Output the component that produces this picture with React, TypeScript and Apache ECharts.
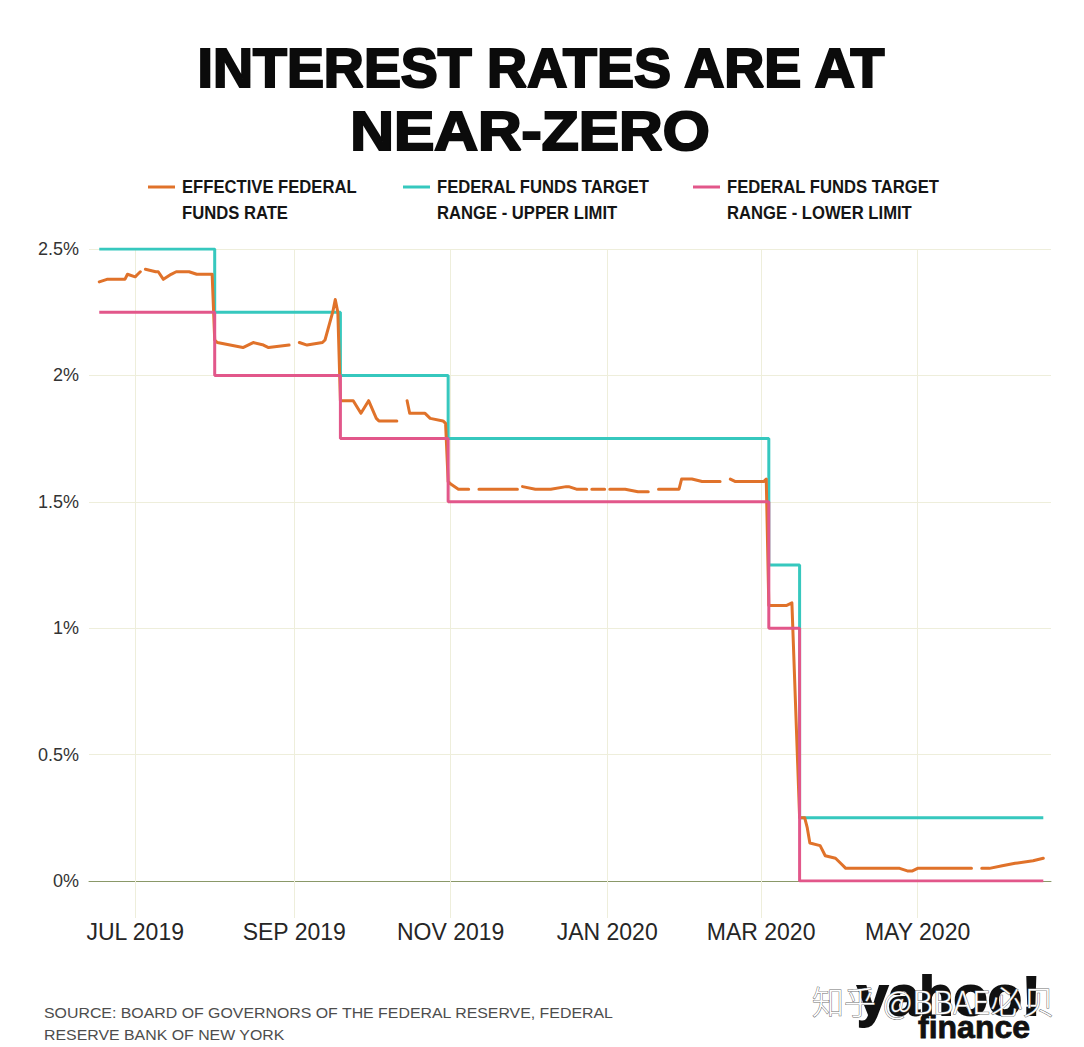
import React, { useEffect, useRef } from 'react';
import * as echarts from 'echarts';

// ---------- texts ----------
const TITLE_LINES = ['INTEREST RATES ARE AT', 'NEAR-ZERO'];
const LEGEND_NAMES = [
  'EFFECTIVE FEDERAL\nFUNDS RATE',
  'FEDERAL FUNDS TARGET\nRANGE - UPPER LIMIT',
  'FEDERAL FUNDS TARGET\nRANGE - LOWER LIMIT',
];
const SERIES_NAMES = ['Effective federal funds rate', 'Target range - upper limit', 'Target range - lower limit'];
const SOURCE_LINES = [
  'SOURCE: BOARD OF GOVERNORS OF THE FEDERAL RESERVE, FEDERAL',
  'RESERVE BANK OF NEW YORK',
];
const WATERMARK = '知乎 @BBAE必贝';
const MONTH_ABBR = ['JAN', 'FEB', 'MAR', 'APR', 'MAY', 'JUN', 'JUL', 'AUG', 'SEP', 'OCT', 'NOV', 'DEC'];

// ---------- axes ----------
const AXIS_START = '2019-06-13';
const AXIS_END = '2020-06-22';
const X_TICK_DATES = ['2019-07-01', '2019-09-01', '2019-11-01', '2020-01-01', '2020-03-01', '2020-05-01'];
const Y_MIN = 0;
const Y_MAX = 2.5;
const Y_STEP = 0.5;

// ---------- target range (changes) ----------
const RANGE_DATES = ['2019-06-17', '2019-08-01', '2019-09-19', '2019-10-31', '2020-03-04', '2020-03-16', '2020-06-19'];
const UPPER_LIMIT = [2.5, 2.25, 2.0, 1.75, 1.25, 0.25, 0.25];
const LOWER_LIMIT = [2.25, 2.0, 1.75, 1.5, 1.0, 0, 0];

// ---------- effective federal funds rate (null = holiday break) ----------
const EFFR_DATES = [
  '2019-06-17', '2019-06-20', '2019-06-27', '2019-06-28', '2019-07-01', '2019-07-02', '2019-07-03', '2019-07-04',
  '2019-07-05', '2019-07-09', '2019-07-10', '2019-07-12', '2019-07-15', '2019-07-17', '2019-07-22', '2019-07-25',
  '2019-07-31', '2019-08-01', '2019-08-02', '2019-08-07', '2019-08-12', '2019-08-14', '2019-08-16', '2019-08-20',
  '2019-08-22', '2019-08-30', '2019-09-02', '2019-09-03', '2019-09-06', '2019-09-12', '2019-09-13', '2019-09-16',
  '2019-09-17', '2019-09-18', '2019-09-19', '2019-09-24', '2019-09-27', '2019-09-30', '2019-10-03', '2019-10-04',
  '2019-10-11', '2019-10-14', '2019-10-15', '2019-10-16', '2019-10-22', '2019-10-24', '2019-10-29', '2019-10-30',
  '2019-10-31', '2019-11-01', '2019-11-04', '2019-11-08', '2019-11-11', '2019-11-12', '2019-11-27', '2019-11-28',
  '2019-11-29', '2019-12-04', '2019-12-10', '2019-12-16', '2019-12-17', '2019-12-20', '2019-12-24', '2019-12-25',
  '2019-12-26', '2019-12-31', '2020-01-01', '2020-01-02', '2020-01-08', '2020-01-13', '2020-01-17', '2020-01-20',
  '2020-01-21', '2020-01-29', '2020-01-30', '2020-02-03', '2020-02-07', '2020-02-14', '2020-02-17', '2020-02-18',
  '2020-02-20', '2020-03-02', '2020-03-03', '2020-03-04', '2020-03-11', '2020-03-13', '2020-03-16', '2020-03-18',
  '2020-03-19', '2020-03-20', '2020-03-24', '2020-03-26', '2020-03-30', '2020-04-01', '2020-04-03', '2020-04-24',
  '2020-04-27', '2020-04-29', '2020-05-01', '2020-05-22', '2020-05-25', '2020-05-26', '2020-05-29', '2020-06-03',
  '2020-06-08', '2020-06-15', '2020-06-19',
];
const EFFR_VALUES: (number | null)[] = [
  2.37, 2.38, 2.38, 2.40, 2.39, 2.40, 2.41, null,
  2.42, 2.41, 2.41, 2.38, 2.40, 2.41, 2.41, 2.40,
  2.40, 2.14, 2.13, 2.12, 2.11, 2.12, 2.13, 2.12,
  2.11, 2.12, null, 2.13, 2.12, 2.13, 2.14, 2.25,
  2.30, 2.25, 1.90, 1.90, 1.85, 1.90, 1.83, 1.82,
  1.82, null, 1.90, 1.85, 1.85, 1.83, 1.82, 1.81,
  1.58, 1.57, 1.55, 1.55, null, 1.55, 1.55, null,
  1.56, 1.55, 1.55, 1.56, 1.56, 1.55, 1.55, null,
  1.55, 1.55, null, 1.55, 1.55, 1.54, 1.54, null,
  1.55, 1.55, 1.59, 1.59, 1.58, 1.58, null, 1.59,
  1.58, 1.58, 1.59, 1.09, 1.09, 1.10, 0.25, 0.25,
  0.21, 0.15, 0.14, 0.10, 0.09, 0.07, 0.05, 0.05,
  0.04, 0.04, 0.05, 0.05, null, 0.05, 0.05, 0.06,
  0.07, 0.08, 0.09,
];

// ---------- styles ----------
const COLORS = ['#e0722a', '#36c8be', '#e2578a'];
const GRID_COLOR = '#eeeedb';
const FONT = '"Liberation Sans", Arial, sans-serif';

function toTime(s: string): number {
  const [y, m, d] = s.split('-').map(Number);
  return new Date(y, m - 1, d).getTime();
}

function monthLabel(v: number): string {
  const d = new Date(v);
  return `${MONTH_ABBR[d.getMonth()]} ${d.getFullYear()}`;
}

export default function App() {
  const ref = useRef<HTMLDivElement>(null);

  useEffect(() => {
    if (!ref.current) return;
    const chart = echarts.init(ref.current, undefined, { renderer: 'svg' });

    const effr = EFFR_DATES.map((d, i) => [toTime(d), EFFR_VALUES[i]]);
    const upper = RANGE_DATES.map((d, i) => [toTime(d), UPPER_LIMIT[i]]);
    const lower = RANGE_DATES.map((d, i) => [toTime(d), LOWER_LIMIT[i]]);
    const xTicks = X_TICK_DATES.map(toTime);

    const legendX = [148, 403, 693];
    const legendGraphics: any[] = [];
    LEGEND_NAMES.forEach((name, i) => {
      legendGraphics.push({
        type: 'line',
        shape: { x1: legendX[i], y1: 187, x2: legendX[i] + 27, y2: 187 },
        style: { stroke: COLORS[i], lineWidth: 3 },
      });
      legendGraphics.push({
        type: 'text',
        x: legendX[i] + 34,
        y: 200,
        scaleX: 0.9,
        style: {
          text: name,
          fontFamily: FONT,
          fontWeight: 'bold',
          fontSize: 18.5,
          lineHeight: 26,
          fill: '#151515',
          align: 'left',
          verticalAlign: 'middle',
        },
      });
    });

    const textEl = (x: number, y: number, text: string, extra: any, scaleX = 1) => ({
      type: 'text',
      x,
      y,
      scaleX,
      style: { text, fontFamily: FONT, align: 'left', verticalAlign: 'middle', ...extra },
    });

    const titleStyle = {
      fontFamily: FONT,
      fontWeight: 'bold',
      fontSize: 56,
      fill: '#0b0b0b',
      stroke: '#0b0b0b',
      lineWidth: 2.2,
      align: 'center',
      verticalAlign: 'middle',
    };

    const option: any = {
      animation: false,
      backgroundColor: '#ffffff',
      grid: { left: 89, right: 33, top: 249, bottom: 166, containLabel: false, outerBoundsMode: 'none' },
      xAxis: {
        type: 'value',
        min: toTime(AXIS_START),
        max: toTime(AXIS_END),
        axisLine: { show: true, onZero: true, lineStyle: { color: '#8a9868', width: 1 } },
        axisTick: { show: true, length: 37, customValues: xTicks, lineStyle: { color: GRID_COLOR, width: 1 } },
        axisLabel: {
          customValues: xTicks,
          formatter: (v: number) => monthLabel(v),
          fontFamily: FONT,
          fontSize: 23,
          color: '#262626',
          margin: 39,
          hideOverlap: false,
          showMinLabel: true,
          showMaxLabel: true,
        },
        splitLine: { show: true, lineStyle: { color: GRID_COLOR, width: 1 } },
      },
      yAxis: {
        type: 'value',
        min: Y_MIN,
        max: Y_MAX,
        interval: Y_STEP,
        axisLine: { show: false },
        axisTick: { show: false },
        axisLabel: {
          formatter: (v: number) => `${v}%`,
          fontFamily: FONT,
          fontSize: 18,
          color: '#333333',
          margin: 10,
          padding: [0, 0, 6, 0],
        },
        splitLine: { show: true, lineStyle: { color: GRID_COLOR, width: 1 } },
      },
      series: [
        {
          name: SERIES_NAMES[1],
          type: 'line',
          step: 'end',
          data: upper,
          showSymbol: false,
          lineStyle: { color: COLORS[1], width: 3 },
          itemStyle: { color: COLORS[1] },
          z: 2,
        },
        {
          name: SERIES_NAMES[0],
          type: 'line',
          data: effr,
          connectNulls: false,
          showSymbol: false,
          lineStyle: { color: COLORS[0], width: 3, join: 'round', cap: 'round' },
          itemStyle: { color: COLORS[0] },
          z: 3,
        },
        {
          name: SERIES_NAMES[2],
          type: 'line',
          step: 'end',
          data: lower,
          showSymbol: false,
          lineStyle: { color: COLORS[2], width: 3 },
          itemStyle: { color: COLORS[2] },
          z: 4,
        },
      ],
      graphic: [
        { type: 'text', x: 541, y: 68, scaleX: 0.99, style: { text: TITLE_LINES[0], ...titleStyle } },
        { type: 'text', x: 530, y: 130, scaleX: 1.08, style: { text: TITLE_LINES[1], ...titleStyle } },
        ...legendGraphics,
        textEl(44, 1013, SOURCE_LINES[0], { fontSize: 15, fill: '#4d4d4d' }, 1.06),
        textEl(44, 1035, SOURCE_LINES[1], { fontSize: 15, fill: '#4d4d4d' }, 1.06),
        textEl(857, 995, 'yahoo!', { fontWeight: 'bold', fontSize: 56, fill: '#111111', stroke: '#111111', lineWidth: 2 }),
        textEl(918, 1027, 'finance', { fontWeight: 'bold', fontSize: 32, fill: '#111111', stroke: '#111111', lineWidth: 0.8 }),
        textEl(812, 1000, WATERMARK, {
          fontFamily: '"Noto Sans CJK SC", sans-serif',
          fontWeight: 300,
          fontSize: 32,
          fill: '#ffffff',
          stroke: '#6f6f6f',
          lineWidth: 1,
        }),
      ],
    };

    chart.setOption(option);
    return () => chart.dispose();
  }, []);

  return (
    <div
      ref={ref}
      style={{ position: 'fixed', left: 0, top: 0, width: 1084, height: 1047, background: '#ffffff' }}
    />
  );
}
